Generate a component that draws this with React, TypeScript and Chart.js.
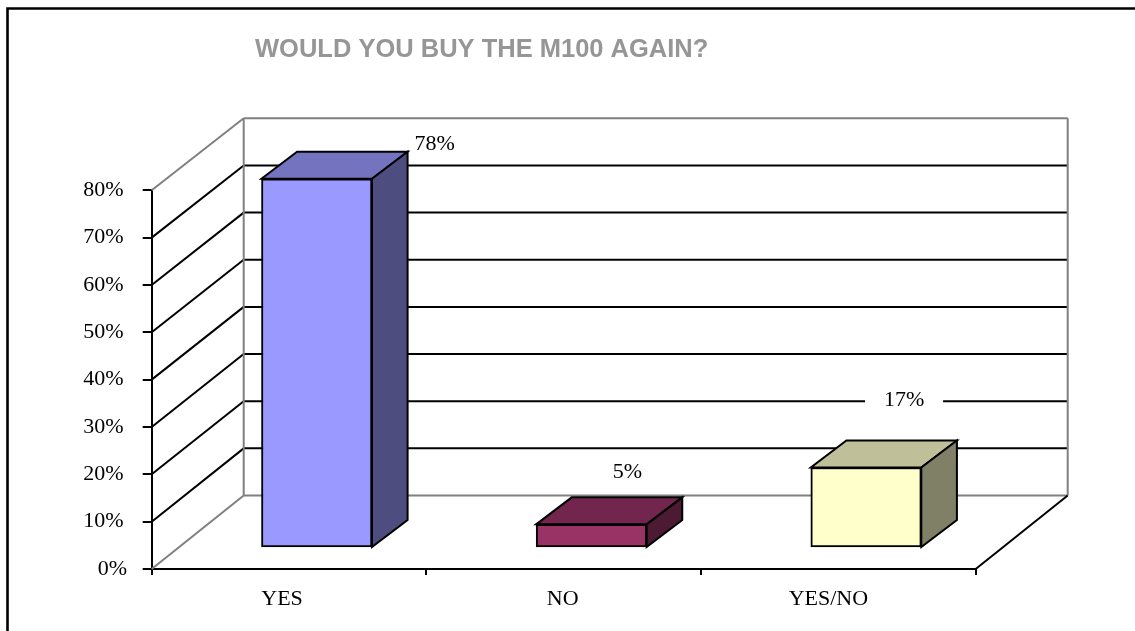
import React, { useEffect, useRef } from "react";
import { Chart, registerables } from "chart.js";

Chart.register(...registerables);

const categories = ["YES", "NO", "YES/NO"];
const values = [78, 5, 17];
const frontColors = ["#9999FF", "#993366", "#FFFFCC"];
const topColors = ["#7373BF", "#73264D", "#BFBF99"];
const sideColors = ["#4D4D80", "#4D1A33", "#808066"];
const titleText = "WOULD YOU BUY THE M100 AGAIN?";
const gridValues = [0, 10, 20, 30, 40, 50, 60, 70, 80];
const labelShiftX = [118, 36, 38];
const labelShiftY = [-35, -52, -67];
const categoryLabelShift = [-7, -1, -10];

const SERIF = '"Liberation Serif", "Times New Roman", serif';
const WALL_DX = 92;
const WALL_DY = 73.5;
const WALL_DY_TOP = 72;
const BAR_DX = 27.7;
const BAR_DY = 21;
const DEPTH_DX = 35.6;
const DEPTH_DY = 27;
const GREY = "#808080";
const LINE = 2;

function line(ctx: CanvasRenderingContext2D, x1: number, y1: number, x2: number, y2: number, color: string, w = LINE) {
  ctx.beginPath();
  ctx.moveTo(x1, y1);
  ctx.lineTo(x2, y2);
  ctx.strokeStyle = color;
  ctx.lineWidth = w;
  ctx.stroke();
}

function poly(ctx: CanvasRenderingContext2D, pts: number[][], fill: string) {
  ctx.beginPath();
  pts.forEach((p, i) => (i ? ctx.lineTo(p[0], p[1]) : ctx.moveTo(p[0], p[1])));
  ctx.closePath();
  ctx.fillStyle = fill;
  ctx.fill();
  ctx.strokeStyle = "#000";
  ctx.lineWidth = LINE;
  ctx.lineJoin = "miter";
  ctx.stroke();
}

const scenePlugin = {
  id: "scene3d",
  beforeDraw(chart: any) {
    const { ctx, width, height } = chart;
    ctx.save();
    ctx.fillStyle = "#fff";
    ctx.fillRect(0, 0, width, height);
    ctx.strokeStyle = "#000";
    ctx.lineWidth = 2.6;
    ctx.beginPath();
    ctx.moveTo(7.5, height);
    ctx.lineTo(7.5, 8.5);
    ctx.lineTo(width, 8.5);
    ctx.stroke();
    ctx.restore();
    // nudge the axis labels to where the reference has them
    chart.scales.x.getLabelItems().forEach((item: any, i: number) => {
      item.options.translation[0] += categoryLabelShift[i];
    });
    chart.scales.y.getLabelItems().forEach((item: any) => {
      if (item.label === "0%") item.options.translation[0] += 3.5;
    });
  },
  afterLayout(chart: any) {
    const t = chart.titleBlock;
    if (t) {
      t.left = 255;
      t.right = 800;
      t.top = 35;
      t.bottom = 65;
    }
  },
  beforeDatasetsDraw(chart: any) {
    const { ctx, chartArea, scales } = chart;
    const y = scales.y;
    const { left, right } = chartArea;
    ctx.save();
    const lastValue = gridValues[gridValues.length - 1];
    const wallY = (v: number) =>
      y.getPixelForValue(v) - (WALL_DY + ((WALL_DY_TOP - WALL_DY) * v) / lastValue);
    gridValues.forEach((v) => {
      const py = y.getPixelForValue(v);
      const edge = v === 0 || v === lastValue;
      line(ctx, left, py, left + WALL_DX, wallY(v), edge ? GREY : "#000");
      line(ctx, left + WALL_DX, wallY(v), right + WALL_DX, wallY(v), edge ? GREY : "#000");
    });
    const bottom = y.getPixelForValue(0);
    line(ctx, left + WALL_DX, wallY(lastValue), left + WALL_DX, wallY(0), GREY);
    line(ctx, right + WALL_DX, wallY(lastValue), right + WALL_DX, wallY(0), GREY);
    line(ctx, right, bottom, right + WALL_DX, wallY(0), "#000");

    // white boxes behind the value labels
    const meta = chart.getDatasetMeta(0);
    meta.data.forEach((bar: any, i: number) => {
      ctx.fillStyle = "#fff";
      ctx.fillRect(bar.x + BAR_DX + labelShiftX[i] - 39, bar.y - BAR_DY + labelShiftY[i] - 12, 78, 24);
    });
    ctx.restore();
  },
  beforeDatasetDraw(chart: any) {
    chart.ctx.save();
    chart.ctx.translate(BAR_DX, -BAR_DY);
  },
  afterDatasetDraw(chart: any, args: any) {
    const ctx = chart.ctx;
    args.meta.data.forEach((bar: any, i: number) => {
      const l = bar.x - bar.width / 2;
      const r = bar.x + bar.width / 2;
      const t = bar.y;
      const b = bar.base;
      poly(ctx, [[l, t], [r, t], [r + DEPTH_DX, t - DEPTH_DY], [l + DEPTH_DX, t - DEPTH_DY]], topColors[i]);
      poly(ctx, [[r, t], [r + DEPTH_DX, t - DEPTH_DY], [r + DEPTH_DX, b - DEPTH_DY], [r, b]], sideColors[i]);
    });
    ctx.restore();
  },
  afterDatasetsDraw(chart: any) {
    const ctx = chart.ctx;
    ctx.save();
    ctx.font = `22px ${SERIF}`;
    ctx.fillStyle = "#000";
    ctx.textAlign = "center";
    ctx.textBaseline = "middle";
    chart.getDatasetMeta(0).data.forEach((bar: any, i: number) => {
      ctx.fillText(`${values[i]}%`, bar.x + BAR_DX + labelShiftX[i], bar.y - BAR_DY + labelShiftY[i]);
    });
    ctx.restore();
  },
};

export default function App() {
  const ref = useRef<HTMLCanvasElement | null>(null);
  useEffect(() => {
    const chart = new Chart(ref.current as HTMLCanvasElement, {
      type: "bar",
      data: {
        labels: categories,
        datasets: [
          {
            data: values,
            backgroundColor: frontColors,
            borderColor: "#000",
            borderWidth: LINE,
            borderSkipped: false,
            barThickness: 110.5,
            clip: false,
          } as any,
        ],
      },
      options: {
        responsive: false,
        animation: false,
        layout: { padding: { top: 159.7, right: 159.3, bottom: 0, left: 0 } },
        plugins: {
          legend: { display: false },
          tooltip: { enabled: false },
          title: {
            display: true,
            text: titleText,
            align: "start",
            color: "#969696",
            padding: 0,
            font: { family: '"Liberation Sans", Arial, sans-serif', size: 25.5, weight: "bold" },
          },
        },
        scales: {
          x: {
            afterFit: (s: any) => {
              s.height = 62;
            },
            grid: { drawOnChartArea: false, color: "#000", tickLength: 6, lineWidth: LINE },
            border: { color: "#000", width: 2 },
            ticks: {
              color: "#000",
              padding: 11,
              font: { family: SERIF, size: 22 },
            },
          },
          y: {
            min: 0,
            max: 80,
            afterFit: (s: any) => {
              s.width = 151.7;
            },
            grid: { drawOnChartArea: false, color: "#000", tickLength: 9, lineWidth: LINE },
            border: { color: "#000", width: 2 },
            ticks: {
              color: "#000",
              stepSize: 10,
              padding: 19,
              callback: (v: any) => `${v}%`,
              font: { family: SERIF, size: 22 },
            },
          },
        },
      },
      plugins: [scenePlugin],
    } as any);
    return () => chart.destroy();
  }, []);
  return (
    <canvas
      ref={ref}
      width={1135}
      height={631}
      style={{ position: "absolute", left: 0, top: 0, width: 1135, height: 631 }}
    />
  );
}
